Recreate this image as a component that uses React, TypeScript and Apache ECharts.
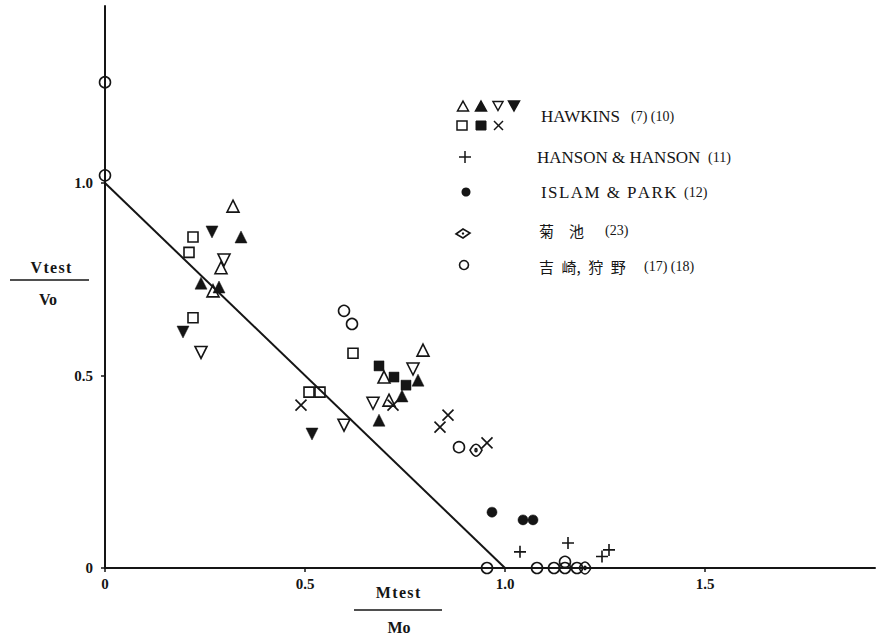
import React, { useEffect, useRef } from "react";
import * as echarts from "echarts";

// ---- data (x = Mtest/Mo, y = Vtest/Vo) ----
const hawkOpenTri = [[0.32, 0.94], [0.29, 0.78], [0.27, 0.72], [0.6975, 0.496], [0.795, 0.566], [0.71, 0.436]];
const hawkFillTri = [[0.34, 0.86], [0.24, 0.74], [0.285, 0.73], [0.685, 0.384], [0.7425, 0.447], [0.7825, 0.488]];
const hawkOpenInv = [[0.2975, 0.8], [0.24, 0.56], [0.5975, 0.371], [0.67, 0.428], [0.77, 0.517]];
const hawkFillInv = [[0.2675, 0.873], [0.195, 0.613], [0.5175, 0.348]];
const hawkOpenSq = [[0.22, 0.86], [0.21, 0.82], [0.22, 0.65], [0.62, 0.558], [0.51, 0.457], [0.5375, 0.457]];
const hawkFillSq = [[0.685, 0.525], [0.7225, 0.496], [0.7525, 0.475]];
const hawkCross = [[0.49, 0.423], [0.72, 0.423], [0.8375, 0.366], [0.8575, 0.397], [0.955, 0.325]];
const hansonPlus = [[1.0375, 0.042], [1.1575, 0.065], [1.2425, 0.03], [1.26, 0.047]];
const islamPark = [[0.9675, 0.145], [1.045, 0.125], [1.07, 0.125]];
const kikuchi = [[0.9275, 0.306], [1.2, 0]];
const yoshizaki = [[0, 1.262], [0, 1.02], [0.5975, 0.668], [0.6175, 0.634], [0.885, 0.314], [0.955, 0], [1.08, 0], [1.1225, 0], [1.15, 0.016], [1.15, 0], [1.18, 0]];
const refLine = [[0, 1.0], [1.0, 0]];

const xTicks = [0, 0.5, 1.0, 1.5];
const yTicks = [0, 0.5, 1.0];

const legendNames = ["HAWKINS", "HANSON & HANSON", "ISLAM & PARK", "菊\u2003池", "吉\u2002崎,\u2002狩\u2002野"];
const legendRefs = ["(7) (10)", "(11)", "(12)", "(23)", "(17) (18)"];

const INK = "#151515";
const SERIF = "'Liberation Serif', 'DejaVu Serif', serif";
const CJK = "'Noto Sans CJK JP', 'Liberation Serif', serif";

const CROSS = "path://M0,0L10,10M10,0L0,10";
const PLUS = "path://M5,0L5,10M0,5L10,5";
const EYE = "path://M0,5Q5,-1 10,5Q5,11 0,5Z M4.2,5A0.8,0.8 0 1 0 5.8,5A0.8,0.8 0 1 0 4.2,5Z";

function scatter(name: string, data: number[][], symbol: string, size: number, filled: boolean, rotate = 0) {
  return {
    type: "scatter",
    name,
    data,
    symbol,
    symbolSize: size,
    symbolRotate: rotate,
    z: 5,
    itemStyle: {
      color: filled ? INK : "rgba(255,255,255,0)",
      borderColor: INK,
      borderWidth: filled ? 0.5 : 1.6,
      opacity: 1,
    },
    emphasis: { disabled: true },
  };
}

function tri(cx: number, cy: number, s: number, up: boolean, filled: boolean) {
  const h = s * 0.9;
  const pts = up
    ? [[cx, cy - h / 2], [cx + s / 2, cy + h / 2], [cx - s / 2, cy + h / 2]]
    : [[cx, cy + h / 2], [cx + s / 2, cy - h / 2], [cx - s / 2, cy - h / 2]];
  return {
    type: "polygon",
    shape: { points: pts },
    style: { fill: filled ? INK : "#fff", stroke: INK, lineWidth: 1.5 },
  };
}

function spaced(s: string) {
  return s.split("").join("\u200A");
}

function buildGraphic() {
  const g: any[] = [];
  // row 1 Hawkins
  g.push(tri(463, 106, 11, true, false));
  g.push(tri(481, 106, 11, true, true));
  g.push(tri(498, 106, 10, false, false));
  g.push(tri(514, 106, 11, false, true));
  // row 2 Hawkins
  g.push({ type: "rect", shape: { x: 457, y: 121, width: 10, height: 9 }, style: { fill: "#fff", stroke: INK, lineWidth: 1.5 } });
  g.push({ type: "rect", shape: { x: 476, y: 121, width: 10, height: 9 }, style: { fill: INK, stroke: INK, lineWidth: 1 } });
  g.push({ type: "line", shape: { x1: 494, y1: 121, x2: 503, y2: 130 }, style: { stroke: INK, lineWidth: 1.5 } });
  g.push({ type: "line", shape: { x1: 503, y1: 121, x2: 494, y2: 130 }, style: { stroke: INK, lineWidth: 1.5 } });
  // Hanson plus
  g.push({ type: "line", shape: { x1: 459, y1: 157, x2: 471, y2: 157 }, style: { stroke: INK, lineWidth: 1.5 } });
  g.push({ type: "line", shape: { x1: 465, y1: 151, x2: 465, y2: 163 }, style: { stroke: INK, lineWidth: 1.5 } });
  // Islam filled circle
  g.push({ type: "circle", shape: { cx: 466, cy: 192, r: 4.5 }, style: { fill: INK } });
  // Kikuchi eye
  g.push({ type: "polygon", shape: { points: [[456, 234], [463, 229], [470, 233], [463, 238]] }, style: { fill: "#fff", stroke: INK, lineWidth: 1.6 } });
  g.push({ type: "circle", shape: { cx: 463, cy: 233.5, r: 1.2 }, style: { fill: INK } });
  // Yoshizaki open circle
  g.push({ type: "circle", shape: { cx: 464, cy: 265, r: 4.5 }, style: { fill: "#fff", stroke: INK, lineWidth: 1.6 } });

  const lat = (x: number, y: number, text: string, size = 17) => ({
    type: "text", x, y, style: { fill: INK, font: `${size}px ${SERIF}`, text, verticalAlign: "middle" },
  });
  const cjk = (x: number, y: number, text: string) => ({
    type: "text", x, y, style: { fill: INK, font: `15px ${CJK}`, text, verticalAlign: "middle" },
  });
  g.push(lat(541, 116, legendNames[0]));
  g.push(lat(631, 116, legendRefs[0], 14));
  g.push(lat(537, 157, legendNames[1]));
  g.push(lat(708, 157, legendRefs[1], 14));
  g.push(lat(541, 192, spaced(legendNames[2])));
  g.push(lat(684, 192, legendRefs[2], 14));
  g.push(cjk(539, 230, legendNames[3]));
  g.push(lat(605, 230, legendRefs[3], 14));
  g.push(cjk(539, 266, legendNames[4]));
  g.push(lat(644, 266, legendRefs[4], 14));

  // axis titles as fractions
  const title = (x: number, y: number, text: string) => ({
    type: "text", x, y, style: { fill: INK, font: `bold 16px ${SERIF}`, text, align: "center", verticalAlign: "middle" },
  });
  g.push(title(51, 267, spaced("Vtest")));
  g.push({ type: "line", shape: { x1: 10, y1: 280, x2: 89, y2: 280 }, style: { stroke: INK, lineWidth: 1.5 } });
  g.push(title(48, 299, "Vo"));
  g.push(title(398, 592, spaced("Mtest")));
  g.push({ type: "line", shape: { x1: 354, y1: 610, x2: 442, y2: 610 }, style: { stroke: INK, lineWidth: 1.5 } });
  g.push(title(399, 627, "Mo"));
  return g;
}

export default function App() {
  const ref = useRef<HTMLDivElement>(null);
  useEffect(() => {
    if (!ref.current) return;
    const chart = echarts.init(ref.current, null, { renderer: "svg" });
    const fmt = (v: number) => (v === 0 ? "0" : v.toFixed(1));
    chart.setOption({
      animation: false,
      backgroundColor: "#fff",
      grid: { left: 105, right: 1, top: 6, bottom: 66, containLabel: false },
      xAxis: {
        type: "value",
        min: 0,
        max: 1.925,
        interval: 0.5,
        axisLine: { show: true, lineStyle: { color: INK, width: 2 } },
        axisTick: { show: true, length: 4, customValues: xTicks, lineStyle: { color: INK, width: 1.5 } },
        axisLabel: { customValues: xTicks, formatter: fmt, color: INK, fontFamily: SERIF, fontWeight: "bold", fontSize: 15, margin: 8 },
        splitLine: { show: false },
      },
      yAxis: {
        type: "value",
        min: 0,
        max: 1.46,
        interval: 0.5,
        axisLine: { show: true, lineStyle: { color: INK, width: 2 } },
        axisTick: { show: true, length: 4, customValues: yTicks, lineStyle: { color: INK, width: 1.5 } },
        axisLabel: { customValues: yTicks, formatter: fmt, color: INK, fontFamily: SERIF, fontWeight: "bold", fontSize: 15, margin: 12 },
        splitLine: { show: false },
      },
      series: [
        {
          type: "line",
          name: "ref",
          data: refLine,
          symbol: "none",
          lineStyle: { color: INK, width: 2 },
          z: 3,
          emphasis: { disabled: true },
        },
        scatter("hawkOpenTri", hawkOpenTri, "triangle", 12, false),
        scatter("hawkFillTri", hawkFillTri, "triangle", 12, true),
        scatter("hawkOpenInv", hawkOpenInv, "triangle", 12, false, 180),
        scatter("hawkFillInv", hawkFillInv, "triangle", 12, true, 180),
        scatter("hawkOpenSq", hawkOpenSq, "rect", 10, false),
        scatter("hawkFillSq", hawkFillSq, "rect", 10, true),
        scatter("hawkCross", hawkCross, CROSS, 11, false),
        scatter("hansonPlus", hansonPlus, PLUS, 12, false),
        scatter("islamPark", islamPark, "circle", 10, true),
        scatter("kikuchi", kikuchi, EYE, 12, false),
        scatter("yoshizaki", yoshizaki, "circle", 11, false),
      ],
      graphic: buildGraphic(),
    });
    return () => chart.dispose();
  }, []);
  return <div ref={ref} style={{ position: "absolute", left: 0, top: 0, width: 876, height: 634 }} />;
}
